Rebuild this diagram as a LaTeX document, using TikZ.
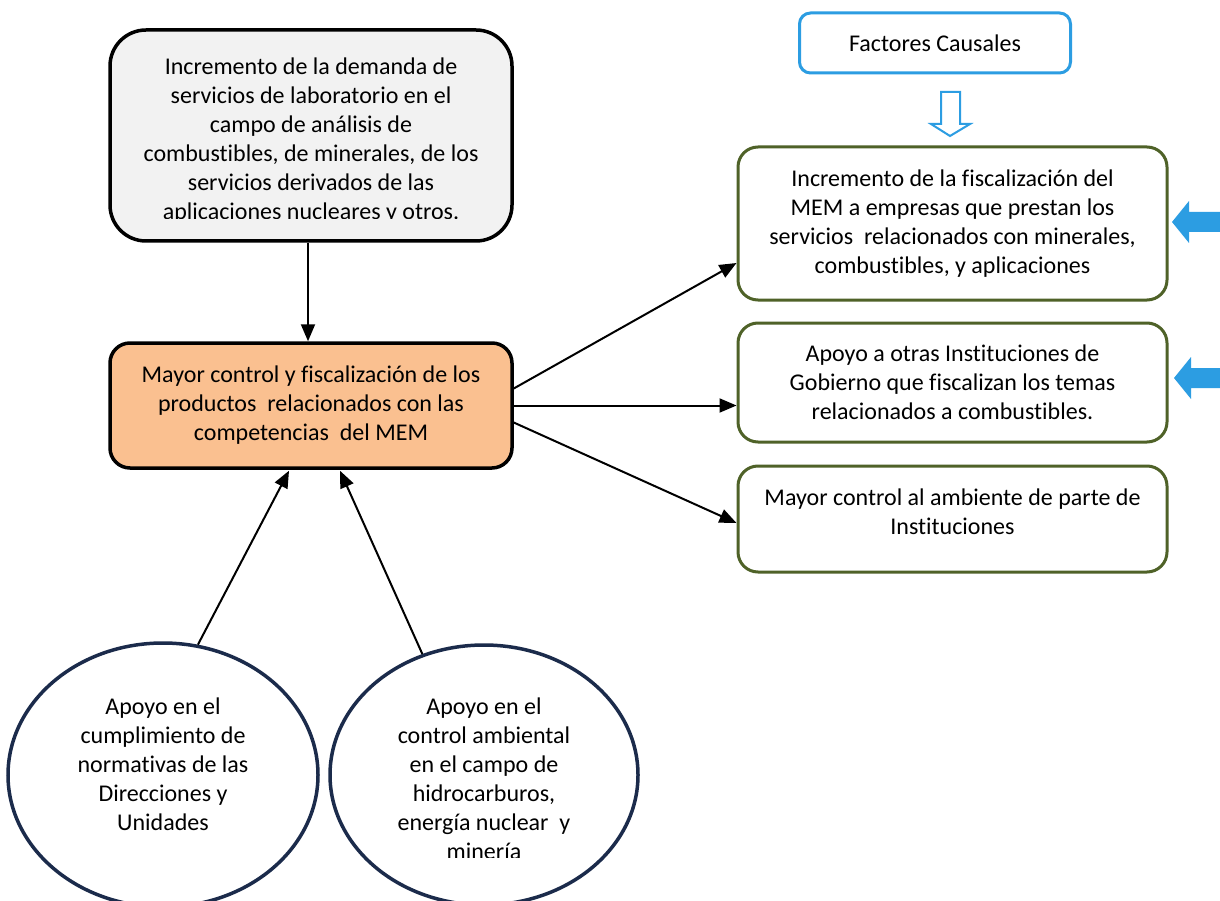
\documentclass[tikz,border=0pt]{standalone}
\usepackage{fontspec}
\setmainfont{Carlito}[Ligatures=NoCommon]
\usetikzlibrary{shapes.geometric,arrows.meta}
\definecolor{boxgray}{HTML}{F2F2F2}
\definecolor{peach}{HTML}{FAC090}
\definecolor{olive}{HTML}{4F6228}
\definecolor{skyblue}{HTML}{2C9DE2}
\definecolor{navy}{HTML}{1B2B4B}
\begin{document}
\begin{tikzpicture}[x=1pt,y=-1pt,
  txt/.style={font=\fontsize{24}{29}\selectfont, align=center, inner sep=0pt, text=black},
  arr/.style={draw=black, line width=2pt, -{Triangle[length=17pt,width=14pt]}},
  greenbox/.style={draw=olive, line width=3pt, fill=white, rounded corners=20pt,
    minimum width=429pt, inner sep=0pt, txt},
  causebox/.style={draw=skyblue, line width=3pt, fill=white, rounded corners=11pt,
    minimum width=271pt, minimum height=60pt, inner sep=0pt, txt},
  support/.style={ellipse, draw=navy, line width=3.5pt, fill=white, inner sep=0pt},
  bluearrow/.style={fill=skyblue, draw=none},
  hollowarrow/.style={draw=skyblue, line width=2pt, fill=white, line join=miter}]
\clip (0,0) rectangle (1220,901);
\fill[white] (0,0) rectangle (1220,901);

% top-left box
\node[draw=black, line width=3.5pt, fill=boxgray, rounded corners=36pt,
  minimum width=402pt, minimum height=211pt, inner sep=0pt] (demand) at (311,135.5) {};
\begin{scope}
\clip (120,40) rectangle (500,219);
\node[txt] (demandtxt) at (311,140.5) {Incremento de la demanda de\\servicios de laboratorio en el\\campo de análisis de\\combustibles, de minerales, de los\\servicios derivados de las\\aplicaciones nucleares y otros.};
\end{scope}

% central box
\node[draw=black, line width=3.5pt, fill=peach, rounded corners=20pt,
  minimum width=402pt, minimum height=125pt, inner sep=0pt, txt] (control) at (311,405.5)
  {Mayor control y fiscalización de los\\productos\ \ relacionados con las\\competencias\ \ del MEM};

% causal factors
\node[causebox] (causes) at (935,43) {Factores Causales};
\draw[hollowarrow] (941,92) -- (960,92) -- (960,124) -- (970,124) -- (950,136)
  -- (931,124) -- (941,124) -- cycle;

% right boxes
\node[greenbox, minimum height=153pt] (effect1) at (952.5,223.5)
  {Incremento de la fiscalización del\\MEM a empresas que prestan los\\servicios\ \ relacionados con minerales,\\combustibles, y aplicaciones};
\node[greenbox, minimum height=119pt] (effect2) at (952.5,382.5)
  {Apoyo a otras Instituciones de\\Gobierno que fiscalizan los temas\\relacionados a combustibles.};
\node[greenbox, minimum height=106pt] (effect3) at (952.5,519) {};
\node[txt] (effect3txt) at (952.5,511.5) {Mayor control al ambiente de parte de\\Instituciones};

% blue block arrows
\fill[bluearrow] (1172,222) -- (1189,201) -- (1189,212) -- (1230,212) -- (1230,232)
  -- (1189,232) -- (1189,243) -- cycle;
\fill[bluearrow] (1174,378) -- (1191,357) -- (1191,368) -- (1230,368) -- (1230,388)
  -- (1191,388) -- (1191,399) -- cycle;

% ellipses
\node[support, minimum width=310pt, minimum height=264pt] (supp1) at (163,775) {};
\node[txt] (supp1txt) at (163,764) {Apoyo en el\\cumplimiento de\\normativas de las\\Direcciones y\\Unidades};
\node[support, minimum width=308pt, minimum height=260pt] (supp2) at (484,775) {};
\begin{scope}
\clip (340,680) rectangle (630,857);
\node[txt] (supp2txt) at (484,779) {Apoyo en el\\control ambiental\\en el campo de\\hidrocarburos,\\energía nuclear\ \ y\\minería};
\end{scope}

% connectors
\draw[arr] ([xshift=-3pt]demand.south) -- ([xshift=-3pt]control.north);
\draw[arr] ([yshift=17pt]control.east) -- ([yshift=-39.5pt]effect1.west);
\draw[arr] (control.east) -- (control.east -| effect2.west);
\draw[arr] ([yshift=-17pt]control.east) -- ([yshift=-4pt]effect3.west);
\draw[arr] (supp1.75) -- ([xshift=-22pt,yshift=-1pt]control.south);
\draw[arr] (supp2.117) -- ([xshift=29pt,yshift=-1pt]control.south);
\end{tikzpicture}
\end{document}
